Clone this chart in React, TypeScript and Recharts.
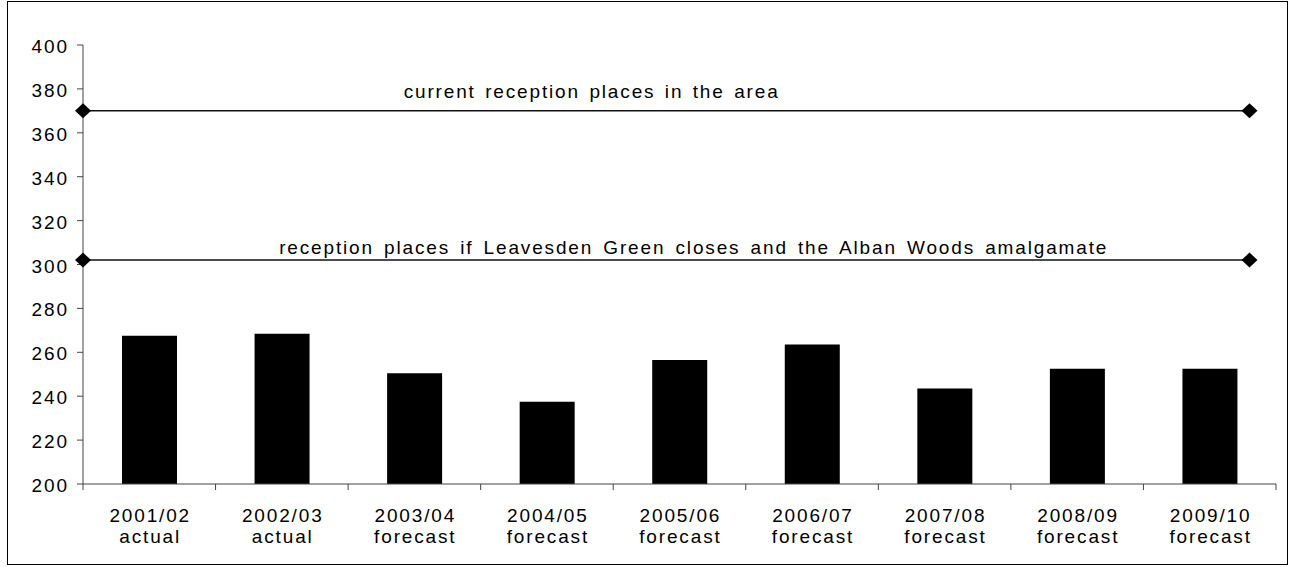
import React from 'react';
import { ComposedChart, Bar, XAxis, YAxis, Scatter, ReferenceDot } from 'recharts';

const categories = ['2001/02', '2002/03', '2003/04', '2004/05', '2005/06', '2006/07', '2007/08', '2008/09', '2009/10'];
const categoryStatus = ['actual', 'actual', 'forecast', 'forecast', 'forecast', 'forecast', 'forecast', 'forecast', 'forecast'];
const receptionPupils = [267.5, 268.5, 250.5, 237.5, 256.5, 263.5, 243.5, 252.5, 252.5];
const yTicks = [200, 220, 240, 260, 280, 300, 320, 340, 360, 380, 400];

const currentPlacesLine = [{ x: 0, y: 370 }, { x: 8.8, y: 370 }];
const reducedPlacesLine = [{ x: 0, y: 302 }, { x: 8.8, y: 302 }];
const currentLabel = 'current reception places in the area';
const reducedLabel = 'reception places if Leavesden Green closes and the Alban Woods amalgamate';
const currentLabelX = 3.83;
const reducedLabelX = 4.6;

const data = categories.map((c, i) => ({ name: c, status: categoryStatus[i], value: receptionPupils[i] }));

const FONT = '"Liberation Sans", Arial, Helvetica, sans-serif';
const FS = 19;
const LS = 1.85;

const Diamond = (props: any) => {
  const { cx, cy } = props;
  if (cx == null || cy == null) return null;
  return <polygon points={`${cx - 8},${cy} ${cx},${cy - 7.5} ${cx + 8},${cy} ${cx},${cy + 7.5}`} fill="#000" />;
};

const CatTick = (props: any) => {
  const { x, y, payload, index } = props;
  const half = payload && payload.offset ? payload.offset : 66.28;
  const status = categoryStatus[categories.indexOf(payload.value)];
  return (
    <g>
      <line x1={x - half} x2={x - half} y1={y - 6} y2={y} stroke="#444" strokeWidth={1} />
      {index === categories.length - 1 && (
        <line x1={x + half} x2={x + half} y1={y - 6} y2={y} stroke="#444" strokeWidth={1} />
      )}
      <text x={x + LS / 2} y={y} textAnchor="middle" fontFamily={FONT} fontSize={FS} fill="#000" style={{ letterSpacing: LS }}>
        <tspan x={x + LS / 2} dy={32}>{payload.value}</tspan>
        <tspan x={x + LS / 2} dy={21}>{status}</tspan>
      </text>
    </g>
  );
};

const ValTick = (props: any) => {
  const { x, y, payload } = props;
  return (
    <text x={x + LS} y={y} dy={8} textAnchor="end" fontFamily={FONT} fontSize={FS} fill="#000" style={{ letterSpacing: LS }}>
      {payload.value}
    </text>
  );
};

const makeLabel = (text: string, gap: number, ws: number) => (props: any) => {
  const vb = props.viewBox || {};
  const cx = (vb.x ?? 0) + (vb.width ?? 0) / 2;
  const cy = (vb.y ?? 0) + (vb.height ?? 0) / 2;
  return (
    <text
      x={cx + LS / 2}
      y={cy - gap}
      textAnchor="middle"
      fontFamily={FONT}
      fontSize={FS}
      fill="#000"
      style={{ letterSpacing: LS, wordSpacing: ws }}
    >
      {text}
    </text>
  );
};

export default function App() {
  return (
    <div style={{ position: 'relative', width: 1290, height: 567, background: '#fff' }}>
      <style>{`body{margin:0;background:#fff}`}</style>
      <div
        style={{
          position: 'absolute',
          left: 7,
          top: 1,
          width: 1281,
          height: 564,
          border: '1px solid #000',
          boxSizing: 'border-box',
        }}
      />
      <div style={{ position: 'absolute', left: 0, top: 0 }}>
        <ComposedChart width={1290} height={567} data={data} margin={{ top: 45, right: 14, bottom: 23, left: 0 }}>
          <XAxis
            xAxisId="c"
            dataKey="name"
            type="category"
            interval={0}
            height={60}
            tickLine={false}
            tickSize={6}
            tickMargin={0}
            axisLine={{ stroke: '#444', strokeWidth: 1 }}
            tick={<CatTick />}
          />
          <XAxis xAxisId="s" type="number" dataKey="x" domain={[0, 9]} hide />
          <YAxis
            type="number"
            domain={[200, 400]}
            ticks={yTicks}
            interval={0}
            width={83}
            tickSize={6}
            tickMargin={10}
            tickLine={{ stroke: '#444' }}
            axisLine={{ stroke: '#444', strokeWidth: 1 }}
            tick={<ValTick />}
            allowDataOverflow
          />
          <Bar xAxisId="c" dataKey="value" fill="#000" barSize={55} isAnimationActive={false} />
          <Scatter
            xAxisId="s"
            data={currentPlacesLine}
            dataKey="y"
            line={{ stroke: '#111', strokeWidth: 1.5 }}
            shape={<Diamond />}
            isAnimationActive={false}
          />
          <Scatter
            xAxisId="s"
            data={reducedPlacesLine}
            dataKey="y"
            line={{ stroke: '#111', strokeWidth: 1.5 }}
            shape={<Diamond />}
            isAnimationActive={false}
          />
          <ReferenceDot xAxisId="s" x={currentLabelX} y={370} r={0} fill="none" stroke="none" label={makeLabel(currentLabel, 13, 2.3)} />
          <ReferenceDot xAxisId="s" x={reducedLabelX} y={302} r={0} fill="none" stroke="none" label={makeLabel(reducedLabel, 6, 3)} />
        </ComposedChart>
      </div>
    </div>
  );
}
